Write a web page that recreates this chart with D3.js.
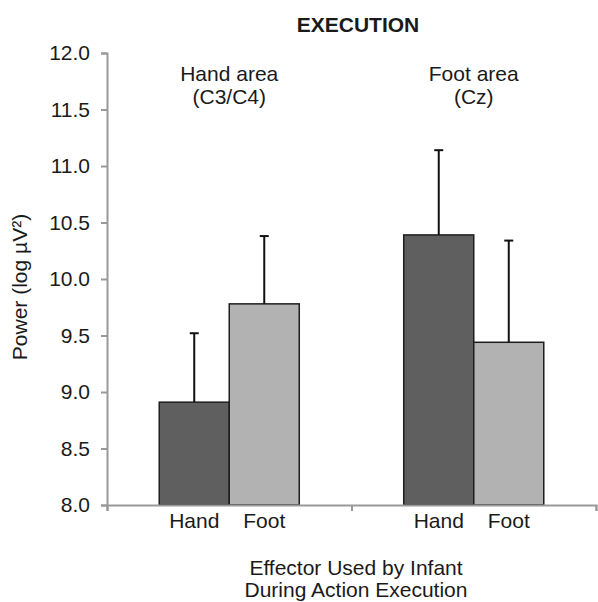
<!DOCTYPE html>
<html>
<head>
<meta charset="utf-8">
<script src="https://cdn.jsdelivr.net/npm/d3@7"></script>
<style>
  html, body { margin: 0; padding: 0; background: #fff; }
  text { font-family: "Liberation Sans", Arial, sans-serif; fill: #1a1a1a; }
</style>
</head>
<body>
<svg id="chart" width="598" height="602"></svg>
<script>
const groups = ["Hand area", "Foot area"];
const groupSub = ["(C3/C4)", "(Cz)"];
const effectors = ["Hand", "Foot"];
const handValues = [8.91, 10.39];
const footValues = [9.78, 9.44];
const handErr = [0.61, 0.75];
const footErr = [0.60, 0.90];
const yTicks = [8.0, 8.5, 9.0, 9.5, 10.0, 10.5, 11.0, 11.5, 12.0];
const title = "EXECUTION";
const yLabel = "Power (log µV²)";
const xLabel = ["Effector Used by Infant", "During Action Execution"];

(function () {
const colors = { Hand: "#5f5f5f", Foot: "#b2b2b2" };
const fs = 21;

const svg = d3.select("#chart");
const mLeft = 107, mRight = 596, mTop = 53, mBottom = 505;

const y = d3.scaleLinear().domain([8, 12]).range([mBottom, mTop]);
const x0 = d3.scaleBand().domain(groups).range([mLeft, mRight]).paddingInner(0).paddingOuter(0);
const x1 = d3.scaleBand().domain(effectors).range([0, x0.bandwidth()]).paddingInner(0).paddingOuter(0.746);
const xb = d3.scaleLinear().domain([0, groups.length]).range([mLeft, mRight]);

const data = [];
groups.forEach((g, i) => {
  data.push({ g, e: "Hand", v: handValues[i], err: handErr[i] });
  data.push({ g, e: "Foot", v: footValues[i], err: footErr[i] });
});

// Title
svg.append("text").attr("x", 358).attr("y", 32).attr("text-anchor", "middle")
  .attr("font-weight", "bold").attr("font-size", fs).text(title);

// Bars
svg.append("g").selectAll("rect").data(data).join("rect")
  .attr("x", d => x0(d.g) + x1(d.e))
  .attr("y", d => y(d.v))
  .attr("width", x1.bandwidth())
  .attr("height", d => y(8) - y(d.v))
  .attr("fill", d => colors[d.e])
  .attr("stroke", "#1e1e1e")
  .attr("stroke-width", 1.5);

// Error bars
const eb = svg.append("g").attr("stroke", "#111").attr("stroke-width", 2);
data.forEach(d => {
  const cx = x0(d.g) + x1(d.e) + x1.bandwidth() / 2;
  eb.append("line").attr("x1", cx).attr("x2", cx).attr("y1", y(d.v)).attr("y2", y(d.v + d.err));
  eb.append("line").attr("x1", cx - 4.5).attr("x2", cx + 4.5).attr("y1", y(d.v + d.err)).attr("y2", y(d.v + d.err));
});

// Y axis
const yAxis = svg.append("g").attr("transform", `translate(${mLeft},0)`)
  .call(d3.axisLeft(y).tickValues(yTicks).tickFormat(d3.format(".1f")).tickSizeOuter(0).tickSize(6).tickPadding(11));
yAxis.select(".domain").attr("stroke", "#999").attr("stroke-width", 2);
yAxis.selectAll(".tick line").attr("stroke", "#999").attr("stroke-width", 2);
yAxis.selectAll(".tick text").attr("font-size", fs).attr("font-family", "Liberation Sans, Arial, sans-serif").attr("fill", "#1a1a1a");

// X axis (group boundaries)
const xAxis = svg.append("g").attr("transform", `translate(0,${mBottom})`)
  .call(d3.axisBottom(xb).tickValues([0, 1, 2]).tickFormat("").tickSizeOuter(0).tickSize(6));
xAxis.select(".domain").attr("stroke", "#999").attr("stroke-width", 2);
xAxis.selectAll(".tick line").attr("stroke", "#999").attr("stroke-width", 2);

// X category labels
svg.append("g").selectAll("text").data(data).join("text")
  .attr("x", d => x0(d.g) + x1(d.e) + x1.bandwidth() / 2)
  .attr("y", 528)
  .attr("text-anchor", "middle")
  .attr("font-size", fs)
  .text(d => d.e);

// Group labels
groups.forEach((g, i) => {
  const cx = x0(g) + x0.bandwidth() / 2;
  svg.append("text").attr("x", cx).attr("y", 81).attr("text-anchor", "middle").attr("font-size", fs).text(g);
  svg.append("text").attr("x", cx).attr("y", 104).attr("text-anchor", "middle").attr("font-size", fs).text(groupSub[i]);
});

// X axis title
xLabel.forEach((t, i) => {
  svg.append("text").attr("x", 356).attr("y", 575 + i * 22).attr("text-anchor", "middle").attr("font-size", fs).text(t);
});

// Y axis title
svg.append("text").attr("transform", "translate(27,287) rotate(-90)")
  .attr("text-anchor", "middle").attr("font-size", fs).text(yLabel);
})();
</script>
</body>
</html>
